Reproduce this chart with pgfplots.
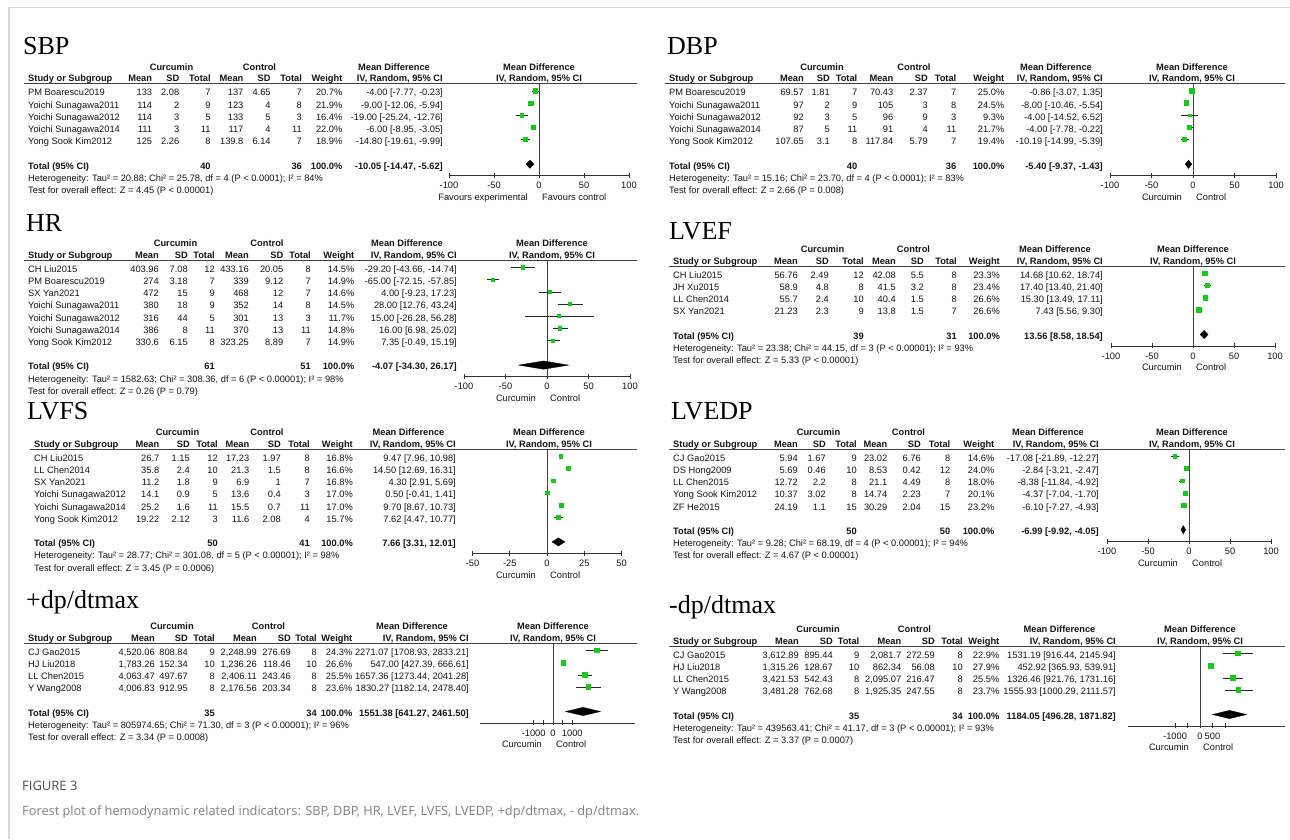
\documentclass[border=0pt]{standalone}
\usepackage{pgfplots}
\pgfplotsset{compat=1.18}
\usepackage{fontspec}
\setmainfont{Liberation Sans}
\newfontfamily\serifT{Liberation Serif}
\newfontfamily\capf{Open Sans}
\definecolor{grn}{RGB}{25,200,25}
\definecolor{txt}{RGB}{20,20,20}
\newcommand\tf{\fontsize{9.3pt}{11pt}\selectfont}
\newcommand\tfb{\fontsize{9.3pt}{11pt}\selectfont\bfseries}
\newcommand\ttl{\fontsize{26pt}{30pt}\selectfont\serifT}
\def\P{12.2}
\newcommand\rowy[1]{\pgfmathsetmacro\yy{\U+7.5+\P*(#1-1)+4.8}}
\newcommand\cols[8]{\def\cA{#1}\def\cB{#2}\def\cC{#3}\def\cD{#4}\def\cE{#5}\def\cF{#6}\def\cG{#7}\def\cH{#8}}
\newcommand\grp[4]{\def\gA{#1}\def\gB{#2}\def\gC{#3}\def\gD{#4}}
\newcommand\Head[1]{%
 \pgfmathsetmacro\ya{\U-13.5}%
 \pgfmathsetmacro\yb{\U-2}%
 \pgfmathsetmacro\yt{\U-\TT}%
 \node[anchor=base west, font=\ttl, text=black] at (\cT,\yt) {#1};
 \node[anchor=base, font=\tfb] at (\gA,\ya) {Curcumin};
 \node[anchor=base, font=\tfb] at (\gB,\ya) {Control};
 \node[anchor=base, font=\tfb] at (\gC,\ya) {Mean Difference};
 \node[anchor=base, font=\tfb] at (\gD,\ya) {Mean Difference};
 \node[anchor=base west, font=\tfb] at (\cN,\yb) {Study or Subgroup};
 \node[anchor=base east, font=\tfb] at (\cA,\yb) {Mean};
 \node[anchor=base east, font=\tfb] at (\cB,\yb) {SD};
 \node[anchor=base east, font=\tfb] at (\cC,\yb) {Total};
 \node[anchor=base east, font=\tfb] at (\cD,\yb) {Mean};
 \node[anchor=base east, font=\tfb] at (\cE,\yb) {SD};
 \node[anchor=base east, font=\tfb] at (\cF,\yb) {Total};
 \node[anchor=base east, font=\tfb] at (\cG,\yb) {Weight};
 \node[anchor=base east, font=\tfb] at (\cH,\yb) {IV, Random, 95\% CI};
 \node[anchor=base, font=\tfb] at (\gD,\yb) {IV, Random, 95\% CI};
 \draw[line width=0.9pt, black!75] (\cN-4,\U) -- (\LE,\U);
}
\newcommand\Ra[6]{\rowy{#1}%
 \node[anchor=base west] at (\cN,\yy) {#2};
 \node[anchor=base east] at (\cA,\yy) {#3};
 \node[anchor=base east] at (\cB,\yy) {#4};
 \node[anchor=base east] at (\cC,\yy) {#5};
 \node[anchor=base east] at (\cD,\yy) {#6};}
\newcommand\Rb[5]{\rowy{#1}%
 \node[anchor=base east] at (\cE,\yy) {#2};
 \node[anchor=base east] at (\cF,\yy) {#3};
 \node[anchor=base east] at (\cG,\yy) {#4};
 \node[anchor=base east] at (\cH,\yy) {#5};}
\newcommand\Tot[6]{\rowy{#1+2}%
 \node[anchor=base west, font=\tfb] at (\cN,\yy) {Total (95\% CI)};
 \node[anchor=base east, font=\tfb] at (\cC,\yy) {#2};
 \node[anchor=base east, font=\tfb] at (\cF,\yy) {#3};
 \node[anchor=base east, font=\tfb] at (\cG,\yy) {100.0\%};
 \node[anchor=base east, font=\tfb] at (\cH,\yy) {#4};
 \node[anchor=base west] at (\cN,\yy+12.2) {#5};
 \node[anchor=base west] at (\cN,\yy+24.4) {#6};}
\newcommand\Bot[3]{\pgfmathsetmacro\yl{\U+\P*(#1+2.555)+25}%
 \node[anchor=base east] at (\Z-11,\yl) {#2};
 \node[anchor=base west] at (\Z+3,\yl) {#3};}
\pgfplotsset{forest/.style={
  scale only axis, clip=false, enlargelimits=false,
  anchor=north west, y=12.2pt,
  axis x line*=bottom, hide y axis,
  x axis line style={-, line width=0.8pt, black!80},
  tick align=center, major tick length=5pt,
  tick style={line width=0.7pt, black!80},
  xticklabel style={font=\tf, text=txt, inner sep=0pt, yshift=-4pt},
}}
\newcommand\study[5]{%
 \addplot[black!85, line width=0.75pt] coordinates {(#3,#1) (#4,#1)};
 \addplot[only marks, mark=square*, mark options={fill=grn, draw=grn, line width=0pt}, mark size={0.7+0.065*#5}] coordinates {(#2,#1)};}
\newcommand\diam[6]{%
 \addplot[fill=black, draw=black, line width=0.3pt] coordinates {(#5,#1) (#4,#2) (#6,#1) (#4,#3) (#5,#1)};}
\newcommand\zl[1]{\addplot[black!75, line width=0.8pt] coordinates {(0,-0.385) (0,#1)};}
\begin{document}
\begin{tikzpicture}
\path[use as bounding box] (0,0) rectangle (1290pt,-839pt);
\begin{scope}[x=1pt,y=-1pt]
\draw[black!15, line width=1.3pt] (9,839) -- (9,7.5) -- (1290,7.5);
\node[anchor=base west, inner sep=0pt, font=\capf\fontsize{13pt}{15pt}\selectfont, text=black!70] at (22,790) {FIGURE 3};
\node[anchor=base west, inner sep=0pt, font=\capf\fontsize{12.8pt}{14pt}\selectfont, text=black!50] at (22,815) {Forest plot of hemodynamic related indicators: SBP, DBP, HR, LVEF, LVFS, LVEDP, +dp/dtmax, - dp/dtmax.};
\end{scope}

% ================= SBP
\def\X{0}\def\U{83.5}\def\TT{29}\def\cT{23}\def\cN{28}\def\LE{637}
\cols{152.3}{179.5}{210.8}{243.6}{270.8}{302.1}{342.6}{443}
\grp{171.5}{259.5}{394}{539}
\def\Z{539}\def\k{0.9}\def\xmn{-100}
\begin{scope}[x=1pt,y=-1pt,shift={(\X,0)},every node/.style={inner sep=0pt,font=\tf,text=txt}]
\Head{SBP}
\Ra{1}{PM Boarescu2019}{133}{2.08}{7}{137}\Rb{1}{4.65}{7}{20.7\%}{-4.00 [-7.77, -0.23]}
\Ra{2}{Yoichi Sunagawa2011}{114}{2}{9}{123}\Rb{2}{4}{8}{21.9\%}{-9.00 [-12.06, -5.94]}
\Ra{3}{Yoichi Sunagawa2012}{114}{3}{5}{133}\Rb{3}{5}{3}{16.4\%}{-19.00 [-25.24, -12.76]}
\Ra{4}{Yoichi Sunagawa2014}{111}{3}{11}{117}\Rb{4}{4}{11}{22.0\%}{-6.00 [-8.95, -3.05]}
\Ra{5}{Yong Sook Kim2012}{125}{2.26}{8}{139.8}\Rb{5}{6.14}{7}{18.9\%}{-14.80 [-19.61, -9.99]}
\Tot{5}{40}{36}{-10.05 [-14.47, -5.62]}{Heterogeneity: Tau² = 20.88; Chi² = 25.78, df = 4 (P < 0.0001); I² = 84\%}{Test for overall effect: Z = 4.45 (P < 0.00001)}
\Bot{5}{Favours experimental}{Favours control}
\end{scope}
\pgfmathsetmacro\ax{\X+\Z+\k*\xmn}
\begin{axis}[forest, at={(\ax pt,-\U pt)}, x=\k pt, xmin=-100, xmax=100, ymin=-7.94, ymax=-0.385,
  xtick={-100,-50,0,50,100}, xticklabels={-100,-50,0,50,100}]
\zl{-7.94}
\study{-1}{-4.00}{-7.77}{-0.23}{20.7}
\study{-2}{-9.00}{-12.06}{-5.94}{21.9}
\study{-3}{-19.00}{-25.24}{-12.76}{16.4}
\study{-4}{-6.00}{-8.95}{-3.05}{22.0}
\study{-5}{-14.80}{-19.61}{-9.99}{18.9}
\diam{-7}{-6.66}{-7.34}{-10.05}{-14.47}{-5.62}
\end{axis}

% ================= DBP
\def\X{640}\def\U{83.5}\def\TT{29}\def\cT{27}\def\cN{29}\def\LE{645}
\cols{164}{190}{217.5}{253.5}{288}{316.5}{364.5}{463}
\grp{182}{274}{416}{552}
\def\Z{553}\def\k{0.83}\def\xmn{-100}
\begin{scope}[x=1pt,y=-1pt,shift={(\X,0)},every node/.style={inner sep=0pt,font=\tf,text=txt}]
\Head{DBP}
\Ra{1}{PM Boarescu2019}{69.57}{1.81}{7}{70.43}\Rb{1}{2.37}{7}{25.0\%}{-0.86 [-3.07, 1.35]}
\Ra{2}{Yoichi Sunagawa2011}{97}{2}{9}{105}\Rb{2}{3}{8}{24.5\%}{-8.00 [-10.46, -5.54]}
\Ra{3}{Yoichi Sunagawa2012}{92}{3}{5}{96}\Rb{3}{9}{3}{9.3\%}{-4.00 [-14.52, 6.52]}
\Ra{4}{Yoichi Sunagawa2014}{87}{5}{11}{91}\Rb{4}{4}{11}{21.7\%}{-4.00 [-7.78, -0.22]}
\Ra{5}{Yong Sook Kim2012}{107.65}{3.1}{8}{117.84}\Rb{5}{5.79}{7}{19.4\%}{-10.19 [-14.99, -5.39]}
\Tot{5}{40}{36}{-5.40 [-9.37, -1.43]}{Heterogeneity: Tau² = 15.16; Chi² = 23.70, df = 4 (P < 0.0001); I² = 83\%}{Test for overall effect: Z = 2.66 (P = 0.008)}
\Bot{5}{Curcumin}{Control}
\end{scope}
\pgfmathsetmacro\ax{\X+\Z+\k*\xmn}
\begin{axis}[forest, at={(\ax pt,-\U pt)}, x=\k pt, xmin=-100, xmax=100, ymin=-7.94, ymax=-0.385,
  xtick={-100,-50,0,50,100}, xticklabels={-100,-50,0,50,100}]
\zl{-7.94}
\study{-1}{-0.86}{-3.07}{1.35}{25.0}
\study{-2}{-8.00}{-10.46}{-5.54}{24.5}
\study{-3}{-4.00}{-14.52}{6.52}{9.3}
\study{-4}{-4.00}{-7.78}{-0.22}{21.7}
\study{-5}{-10.19}{-14.99}{-5.39}{19.4}
\diam{-7}{-6.66}{-7.34}{-5.40}{-9.37}{-1.43}
\end{axis}

% ================= HR
\def\X{0}\def\U{260}\def\TT{29}\def\cT{26}\def\cN{28}\def\LE{637}
\cols{159}{188}{215}{249}{283.5}{311}{354.5}{457}
\grp{175.5}{267}{407}{552}
\def\Z{547}\def\k{0.83}\def\xmn{-100}
\begin{scope}[x=1pt,y=-1pt,shift={(\X,0)},every node/.style={inner sep=0pt,font=\tf,text=txt}]
\Head{HR}
\Ra{1}{CH Liu2015}{403.96}{7.08}{12}{433.16}\Rb{1}{20.05}{8}{14.5\%}{-29.20 [-43.66, -14.74]}
\Ra{2}{PM Boarescu2019}{274}{3.18}{7}{339}\Rb{2}{9.12}{7}{14.9\%}{-65.00 [-72.15, -57.85]}
\Ra{3}{SX Yan2021}{472}{15}{9}{468}\Rb{3}{12}{7}{14.6\%}{4.00 [-9.23, 17.23]}
\Ra{4}{Yoichi Sunagawa2011}{380}{18}{9}{352}\Rb{4}{14}{8}{14.5\%}{28.00 [12.76, 43.24]}
\Ra{5}{Yoichi Sunagawa2012}{316}{44}{5}{301}\Rb{5}{13}{3}{11.7\%}{15.00 [-26.28, 56.28]}
\Ra{6}{Yoichi Sunagawa2014}{386}{8}{11}{370}\Rb{6}{13}{11}{14.8\%}{16.00 [6.98, 25.02]}
\Ra{7}{Yong Sook Kim2012}{330.6}{6.15}{8}{323.25}\Rb{7}{8.89}{7}{14.9\%}{7.35 [-0.49, 15.19]}
\Tot{7}{61}{51}{-4.07 [-34.30, 26.17]}{Heterogeneity: Tau² = 1582.63; Chi² = 308.36, df = 6 (P < 0.00001); I² = 98\%}{Test for overall effect: Z = 0.26 (P = 0.79)}
\Bot{7}{Curcumin}{Control}
\end{scope}
\pgfmathsetmacro\ax{\X+\Z+\k*\xmn}
\begin{axis}[forest, at={(\ax pt,-\U pt)}, x=\k pt, xmin=-100, xmax=100, ymin=-9.94, ymax=-0.385,
  xtick={-100,-50,0,50,100}, xticklabels={-100,-50,0,50,100}]
\zl{-9.94}
\study{-1}{-29.20}{-43.66}{-14.74}{14.5}
\study{-2}{-65.00}{-72.15}{-57.85}{14.9}
\study{-3}{4.00}{-9.23}{17.23}{14.6}
\study{-4}{28.00}{12.76}{43.24}{14.5}
\study{-5}{15.00}{-26.28}{56.28}{11.7}
\study{-6}{16.00}{6.98}{25.02}{14.8}
\study{-7}{7.35}{-0.49}{15.19}{14.9}
\diam{-9}{-8.66}{-9.34}{-4.07}{-34.30}{26.17}
\end{axis}

% ================= LVEF
\def\X{640}\def\U{266}\def\TT{27}\def\cT{29}\def\cN{33}\def\LE{645}
\cols{158}{189}{224}{256}{284}{317}{360}{463}
\grp{182.5}{273.5}{415}{553}
\def\Z{553}\def\k{0.82}\def\xmn{-100}
\begin{scope}[x=1pt,y=-1pt,shift={(\X,0)},every node/.style={inner sep=0pt,font=\tf,text=txt}]
\Head{LVEF}
\Ra{1}{CH Liu2015}{56.76}{2.49}{12}{42.08}\Rb{1}{5.5}{8}{23.3\%}{14.68 [10.62, 18.74]}
\Ra{2}{JH Xu2015}{58.9}{4.8}{8}{41.5}\Rb{2}{3.2}{8}{23.4\%}{17.40 [13.40, 21.40]}
\Ra{3}{LL Chen2014}{55.7}{2.4}{10}{40.4}\Rb{3}{1.5}{8}{26.6\%}{15.30 [13.49, 17.11]}
\Ra{4}{SX Yan2021}{21.23}{2.3}{9}{13.8}\Rb{4}{1.5}{7}{26.6\%}{7.43 [5.56, 9.30]}
\Tot{4}{39}{31}{13.56 [8.58, 18.54]}{Heterogeneity: Tau² = 23.38; Chi² = 44.15, df = 3 (P < 0.00001); I² = 93\%}{Test for overall effect: Z = 5.33 (P < 0.00001)}
\Bot{4}{Curcumin}{Control}
\end{scope}
\pgfmathsetmacro\ax{\X+\Z+\k*\xmn}
\begin{axis}[forest, at={(\ax pt,-\U pt)}, x=\k pt, xmin=-100, xmax=100, ymin=-6.94, ymax=-0.385,
  xtick={-100,-50,0,50,100}, xticklabels={-100,-50,0,50,100}]
\zl{-6.94}
\study{-1}{14.68}{10.62}{18.74}{23.3}
\study{-2}{17.40}{13.40}{21.40}{23.4}
\study{-3}{15.30}{13.49}{17.11}{26.6}
\study{-4}{7.43}{5.56}{9.30}{26.6}
\diam{-6}{-5.66}{-6.34}{13.56}{8.58}{18.54}
\end{axis}

% ================= LVFS
\def\X{0}\def\U{449}\def\TT{30}\def\cT{27}\def\cN{34}\def\LE{637}
\cols{159.5}{190}{218}{249.5}{281}{310}{353}{456}
\grp{177.5}{267}{408.5}{549}
\def\Z{547}\def\k{1.49}\def\xmn{-50}
\begin{scope}[x=1pt,y=-1pt,shift={(\X,0)},every node/.style={inner sep=0pt,font=\tf,text=txt}]
\Head{LVFS}
\Ra{1}{CH Liu2015}{26.7}{1.15}{12}{17.23}\Rb{1}{1.97}{8}{16.8\%}{9.47 [7.96, 10.98]}
\Ra{2}{LL Chen2014}{35.8}{2.4}{10}{21.3}\Rb{2}{1.5}{8}{16.6\%}{14.50 [12.69, 16.31]}
\Ra{3}{SX Yan2021}{11.2}{1.8}{9}{6.9}\Rb{3}{1}{7}{16.8\%}{4.30 [2.91, 5.69]}
\Ra{4}{Yoichi Sunagawa2012}{14.1}{0.9}{5}{13.6}\Rb{4}{0.4}{3}{17.0\%}{0.50 [-0.41, 1.41]}
\Ra{5}{Yoichi Sunagawa2014}{25.2}{1.6}{11}{15.5}\Rb{5}{0.7}{11}{17.0\%}{9.70 [8.67, 10.73]}
\Ra{6}{Yong Sook Kim2012}{19.22}{2.12}{3}{11.6}\Rb{6}{2.08}{4}{15.7\%}{7.62 [4.47, 10.77]}
\Tot{6}{50}{41}{7.66 [3.31, 12.01]}{Heterogeneity: Tau² = 28.77; Chi² = 301.08, df = 5 (P < 0.00001); I² = 98\%}{Test for overall effect: Z = 3.45 (P = 0.0006)}
\Bot{6}{Curcumin}{Control}
\end{scope}
\pgfmathsetmacro\ax{\X+\Z+\k*\xmn}
\begin{axis}[forest, at={(\ax pt,-\U pt)}, x=\k pt, xmin=-50, xmax=50, ymin=-8.94, ymax=-0.385,
  xtick={-50,-25,0,25,50}, xticklabels={-50,-25,0,25,50}]
\zl{-8.94}
\study{-1}{9.47}{7.96}{10.98}{16.8}
\study{-2}{14.50}{12.69}{16.31}{16.6}
\study{-3}{4.30}{2.91}{5.69}{16.8}
\study{-4}{0.50}{-0.41}{1.41}{17.0}
\study{-5}{9.70}{8.67}{10.73}{17.0}
\study{-6}{7.62}{4.47}{10.77}{15.7}
\diam{-8}{-7.66}{-8.34}{7.66}{3.31}{12.01}
\end{axis}

% ================= LVEDP
\def\X{640}\def\U{449}\def\TT{30}\def\cT{31}\def\cN{33}\def\LE{645}
\cols{158}{186}{217}{247.5}{281}{310.5}{354.5}{459}
\grp{178.5}{268.5}{408}{552}
\def\Z{549}\def\k{0.82}\def\xmn{-100}
\begin{scope}[x=1pt,y=-1pt,shift={(\X,0)},every node/.style={inner sep=0pt,font=\tf,text=txt}]
\Head{LVEDP}
\Ra{1}{CJ Gao2015}{5.94}{1.67}{9}{23.02}\Rb{1}{6.76}{8}{14.6\%}{-17.08 [-21.89, -12.27]}
\Ra{2}{DS Hong2009}{5.69}{0.46}{10}{8.53}\Rb{2}{0.42}{12}{24.0\%}{-2.84 [-3.21, -2.47]}
\Ra{3}{LL Chen2015}{12.72}{2.2}{8}{21.1}\Rb{3}{4.49}{8}{18.0\%}{-8.38 [-11.84, -4.92]}
\Ra{4}{Yong Sook Kim2012}{10.37}{3.02}{8}{14.74}\Rb{4}{2.23}{7}{20.1\%}{-4.37 [-7.04, -1.70]}
\Ra{5}{ZF He2015}{24.19}{1.1}{15}{30.29}\Rb{5}{2.04}{15}{23.2\%}{-6.10 [-7.27, -4.93]}
\Tot{5}{50}{50}{-6.99 [-9.92, -4.05]}{Heterogeneity: Tau² = 9.28; Chi² = 68.19, df = 4 (P < 0.00001); I² = 94\%}{Test for overall effect: Z = 4.67 (P < 0.00001)}
\Bot{5}{Curcumin}{Control}
\end{scope}
\pgfmathsetmacro\ax{\X+\Z+\k*\xmn}
\begin{axis}[forest, at={(\ax pt,-\U pt)}, x=\k pt, xmin=-100, xmax=100, ymin=-7.94, ymax=-0.385,
  xtick={-100,-50,0,50,100}, xticklabels={-100,-50,0,50,100}]
\zl{-7.94}
\study{-1}{-17.08}{-21.89}{-12.27}{14.6}
\study{-2}{-2.84}{-3.21}{-2.47}{24.0}
\study{-3}{-8.38}{-11.84}{-4.92}{18.0}
\study{-4}{-4.37}{-7.04}{-1.70}{20.1}
\study{-5}{-6.10}{-7.27}{-4.93}{23.2}
\diam{-7}{-6.66}{-7.34}{-6.99}{-9.92}{-4.05}
\end{axis}

% ================= +dp/dtmax
\def\X{0}\def\U{643}\def\TT{35}\def\cT{26}\def\cN{28}\def\LE{637}
\cols{155}{188}{215}{257}{291}{317}{352.5}{469}
\grp{172}{268.5}{412}{553}
\def\Z{553}\def\k{0.0193}\def\xmn{-3800}
\begin{scope}[x=1pt,y=-1pt,shift={(\X,0)},every node/.style={inner sep=0pt,font=\tf,text=txt}]
\Head{+dp/dtmax}
\Ra{1}{CJ Gao2015}{4,520.06}{808.84}{9}{2,248.99}\Rb{1}{276.69}{8}{24.3\%}{2271.07 [1708.93, 2833.21]}
\Ra{2}{HJ Liu2018}{1,783.26}{152.34}{10}{1,236.26}\Rb{2}{118.46}{10}{26.6\%}{547.00 [427.39, 666.61]}
\Ra{3}{LL Chen2015}{4,063.47}{497.67}{8}{2,406.11}\Rb{3}{243.46}{8}{25.5\%}{1657.36 [1273.44, 2041.28]}
\Ra{4}{Y Wang2008}{4,006.83}{912.95}{8}{2,176.56}\Rb{4}{203.34}{8}{23.6\%}{1830.27 [1182.14, 2478.40]}
\Tot{4}{35}{34}{1551.38 [641.27, 2461.50]}{Heterogeneity: Tau² = 805974.65; Chi² = 71.30, df = 3 (P < 0.00001); I² = 96\%}{Test for overall effect: Z = 3.34 (P = 0.0008)}
\Bot{4}{Curcumin}{Control}
\end{scope}
\pgfmathsetmacro\ax{\X+\Z+\k*\xmn}
\begin{axis}[forest, at={(\ax pt,-\U pt)}, x=\k pt, xmin=-3800, xmax=4250, ymin=-6.94, ymax=-0.385,
  xtick={-1000,-500,0,500,1000}, xticklabels={-1000,,0,,1000}]
\zl{-6.94}
\study{-1}{2271.07}{1708.93}{2833.21}{24.3}
\study{-2}{547.00}{427.39}{666.61}{26.6}
\study{-3}{1657.36}{1273.44}{2041.28}{25.5}
\study{-4}{1830.27}{1182.14}{2478.40}{23.6}
\diam{-6}{-5.66}{-6.34}{1551.38}{641.27}{2461.50}
\end{axis}

% ================= -dp/dtmax
\def\X{640}\def\U{646}\def\TT{33}\def\cT{29}\def\cN{33}\def\LE{645}
\cols{159}{193}{219.5}{261.5}{295}{323}{359.5}{476}
\grp{178}{274.5}{419.5}{560}
\def\Z{560}\def\k{0.0249}\def\xmn{-2900}
\begin{scope}[x=1pt,y=-1pt,shift={(\X,0)},every node/.style={inner sep=0pt,font=\tf,text=txt}]
\Head{-dp/dtmax}
\Ra{1}{CJ Gao2015}{3,612.89}{895.44}{9}{2,081.7}\Rb{1}{272.59}{8}{22.9\%}{1531.19 [916.44, 2145.94]}
\Ra{2}{HJ Liu2018}{1,315.26}{128.67}{10}{862.34}\Rb{2}{56.08}{10}{27.9\%}{452.92 [365.93, 539.91]}
\Ra{3}{LL Chen2015}{3,421.53}{542.43}{8}{2,095.07}\Rb{3}{216.47}{8}{25.5\%}{1326.46 [921.76, 1731.16]}
\Ra{4}{Y Wang2008}{3,481.28}{762.68}{8}{1,925.35}\Rb{4}{247.55}{8}{23.7\%}{1555.93 [1000.29, 2111.57]}
\Tot{4}{35}{34}{1184.05 [496.28, 1871.82]}{Heterogeneity: Tau² = 439563.41; Chi² = 41.17, df = 3 (P < 0.00001); I² = 93\%}{Test for overall effect: Z = 3.37 (P = 0.0007)}
\Bot{4}{Curcumin}{Control}
\end{scope}
\pgfmathsetmacro\ax{\X+\Z+\k*\xmn}
\begin{axis}[forest, at={(\ax pt,-\U pt)}, x=\k pt, xmin=-2900, xmax=3400, ymin=-6.94, ymax=-0.385,
  xtick={-1000,-500,0,500,1000}, xticklabels={-1000,,0,500,}]
\zl{-6.94}
\study{-1}{1531.19}{916.44}{2145.94}{22.9}
\study{-2}{452.92}{365.93}{539.91}{27.9}
\study{-3}{1326.46}{921.76}{1731.16}{25.5}
\study{-4}{1555.93}{1000.29}{2111.57}{23.7}
\diam{-6}{-5.66}{-6.34}{1184.05}{496.28}{1871.82}
\end{axis}
\end{tikzpicture}
\end{document}
